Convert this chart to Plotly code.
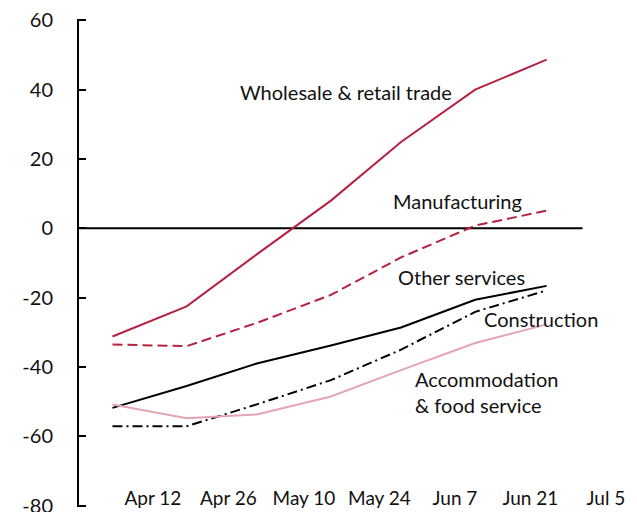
import plotly.graph_objects as go

# Data (approximate survey dates)
dates = ["2020-04-04 12:00", "2020-04-18 06:00", "2020-05-01 06:00", "2020-05-15",
         "2020-05-28", "2020-06-10 18:00", "2020-06-24"]
wholesale = [-31.2, -22.5, -7.5, 8.0, 24.9, 40.0, 48.7]
manufacturing = [-33.5, -34.0, -27.3, -19.2, -8.4, 0.8, 5.1]
other_services = [-51.8, -45.5, -39.0, -33.8, -28.6, -20.6, -16.6]
construction = [-57.1, -57.1, -50.8, -43.8, -35.0, -24.1, -17.9]
accommodation = [-50.8, -54.8, -53.7, -48.5, -40.9, -33.1, -27.7]

tick_dates = ["2020-04-12", "2020-04-26", "2020-05-10", "2020-05-24",
              "2020-06-07", "2020-06-21", "2020-07-05"]
tick_labels = ["Apr 12", "Apr 26", "May 10", "May 24", "Jun 7", "Jun 21", "Jul 5"]
y_ticks = [60, 40, 20, 0, -20, -40, -60, -80]
y_labels = ["60", "40", "20", "0", "-20", "-40", "-60", "-80"]

RED = "#B5223F"
PINK = "#E3A5B4"
BLACK = "#000000"
FONT = "Lato"
TXT = "#111111"

fig = go.Figure()
series = [
    (wholesale, RED, "solid"),
    (manufacturing, RED, "10px,5px"),
    (other_services, BLACK, "solid"),
    (construction, BLACK, "10px,4px,2px,4px"),
    (accommodation, PINK, "solid"),
]
for vals, col, dash in series:
    fig.add_trace(go.Scatter(x=dates, y=vals, mode="lines",
                             line=dict(color=col, width=2, dash=dash),
                             showlegend=False, hoverinfo="skip", cliponaxis=False))

x_start = "2020-03-29 07:00"
fig.add_shape(type="line", xref="x", yref="y", x0=x_start, x1="2020-06-30 16:00",
              y0=0, y1=0, line=dict(color=BLACK, width=2), layer="below")

labels = [
    ("Wholesale & retail trade", 0.4846, 0.851, "center"),
    ("Manufacturing", 0.6869, 0.627, "center"),
    ("Other services", 0.6933, 0.4706, "center"),
    ("Construction", 0.8385, 0.3862, "center"),
    ("Accommodation<br>& food service", 0.6067, 0.236, "left"),
]
for txt, x, y, anc in labels:
    fig.add_annotation(text=txt, x=x, y=y, xref="paper", yref="paper",
                       xanchor=anc, yanchor="middle", showarrow=False, align="left",
                       font=dict(family=FONT, size=20, color=TXT))

# page body has an 8px margin, so the figure is sized to the remaining window
fig.update_layout(
    width=629, height=504,
    margin=dict(l=71, r=7, t=10.6, b=4.9),
    plot_bgcolor="white", paper_bgcolor="white",
    font=dict(family=FONT, size=20, color=TXT),
    xaxis=dict(range=[x_start, "2020-07-09 11:00"], tickvals=tick_dates,
               ticktext=tick_labels, showgrid=False, zeroline=False,
               showline=False, ticks="", anchor="free", position=0.046,
               automargin=False, ticklabeloverflow="allow",
               tickfont=dict(family=FONT, size=19, color=TXT)),
    yaxis=dict(range=[-80.4, 60.4], tickvals=y_ticks, ticktext=y_labels,
               showgrid=False, zeroline=False, automargin=False,
               ticklabeloverflow="allow",
               showline=True, linecolor=BLACK, linewidth=2,
               ticks="inside", ticklen=7, tickwidth=2, tickcolor=BLACK,
               ticklabelstandoff=20,
               tickfont=dict(family=FONT, size=20, color=TXT)),
)

fig.write_html("out.html")
